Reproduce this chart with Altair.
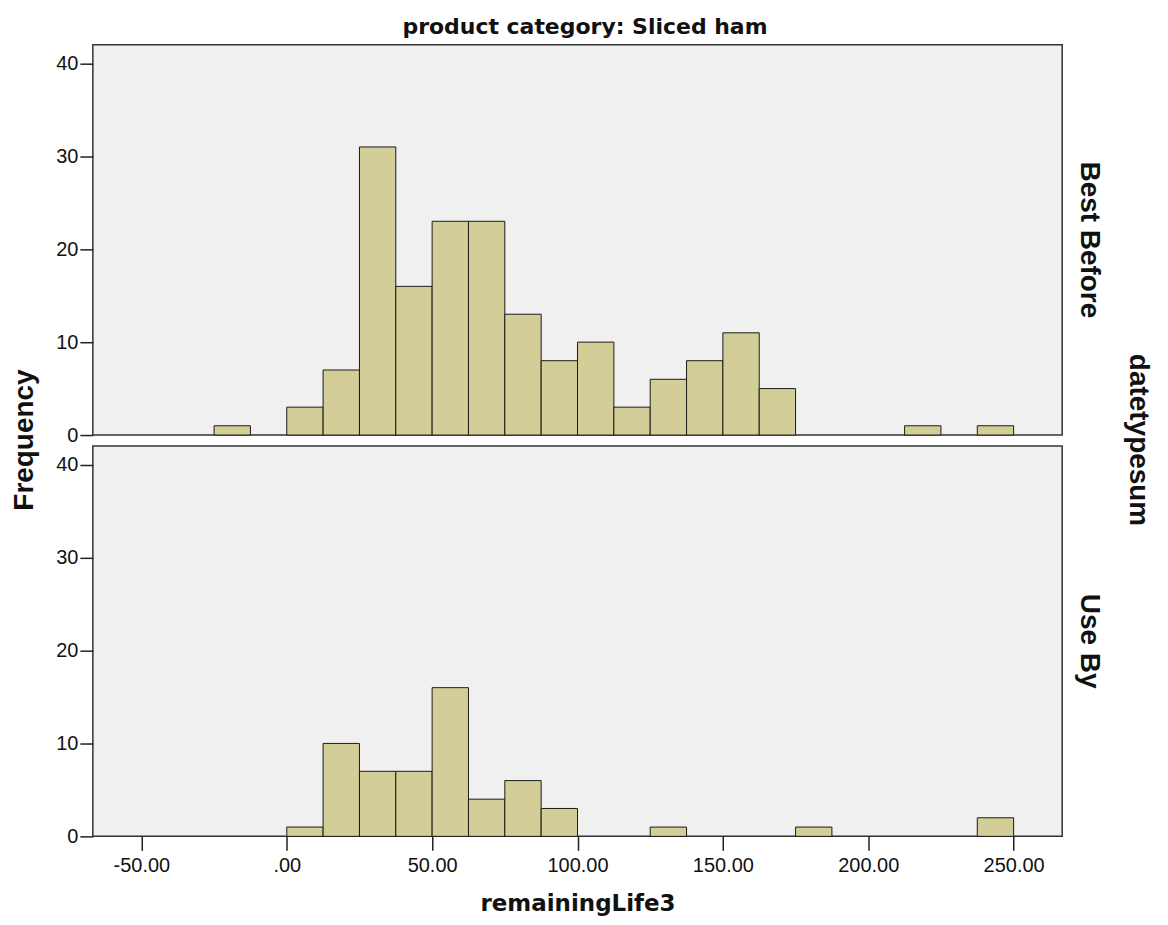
import altair as alt
import pandas as pd

# ---- data (histogram bins of width 12.5) ----
bin_starts = [-25, -12.5, 0, 12.5, 25, 37.5, 50, 62.5, 75, 87.5, 100, 112.5,
              125, 137.5, 150, 162.5, 175, 187.5, 200, 212.5, 225, 237.5]
best_before_counts = [1, 0, 3, 7, 31, 16, 23, 23, 13, 8, 10, 3,
                      6, 8, 11, 5, 0, 0, 0, 1, 0, 1]
use_by_counts = [0, 0, 1, 10, 7, 7, 16, 4, 6, 3, 0, 0,
                 1, 0, 0, 0, 1, 0, 0, 0, 0, 2]
panel_names = ["Best Before", "Use By"]
x_ticks = [-50, 0, 50, 100, 150, 200, 250]
y_ticks = [0, 10, 20, 30, 40]
BIN_WIDTH = 12.5

rows = []
for name, counts in zip(panel_names, [best_before_counts, use_by_counts]):
    for s, c in zip(bin_starts, counts):
        rows.append({"type": name, "start": s, "end": s + BIN_WIDTH, "count": c})
df = pd.DataFrame(rows)

W, H = 971, 391
XDOM = [-66.7, 266.7]
YDOM = [0, 42]
FILL = "#D3CE97"
INK = "#111111"
SANS = "Liberation Sans"
WIDE = "DejaVu Sans"

one = alt.Data(values=[{}])


def label(text, x, y, angle=0, size=28, font=SANS, baseline="middle"):
    return alt.Chart(one).mark_text(
        text=text, angle=angle, font=font, fontSize=size, fontWeight="bold",
        color=INK, align="center", baseline=baseline
    ).encode(x=alt.value(x), y=alt.value(y))


def bars(name, show_x):
    if show_x:
        x_axis = alt.Axis(
            values=x_ticks,
            labelExpr="datum.value == 0 ? '.00' : replace(format(datum.value, '.2f'), '\u2212', '-')",
            title="remainingLife3", titleFont=WIDE, titleFontSize=23,
            titleFontWeight="bold", titleColor=INK, titlePadding=17,
            labelFont=SANS, labelFontSize=20, labelColor=INK, labelPadding=5,
            tickSize=14, tickWidth=1.5, tickColor="#222222",
            domain=False, grid=False,
        )
    else:
        x_axis = None
    y_axis = alt.Axis(
        values=y_ticks, title=None, labelFont=SANS, labelFontSize=20,
        labelColor=INK, labelPadding=2, tickSize=13, tickWidth=1.5,
        tickColor="#222222", domain=False, grid=False,
    )
    return alt.Chart(df).transform_filter(
        (alt.datum.type == name) & (alt.datum.count > 0)
    ).mark_bar(fill=FILL, stroke="#1a1a1a", strokeWidth=1).encode(
        x=alt.X("start:Q", scale=alt.Scale(domain=XDOM, nice=False, zero=False), axis=x_axis),
        x2="end:Q",
        y=alt.Y("count:Q", scale=alt.Scale(domain=YDOM, nice=False), axis=y_axis),
        y2=alt.datum(0),
    )


frame = alt.Chart(one).mark_rect(opacity=0).encode(
    x=alt.value(-92), x2=alt.value(1168 - 92),
    y=alt.value(-43), y2=alt.value(925 - 43),
)

top = alt.layer(
    frame,
    bars("Best Before", False),
    label("Best Before", W + 27, H / 2, angle=90),
    label("datetypesum", 1047, 396, angle=90),
    label("Frequency", -68, 396, angle=270),
    label("product category: Sliced ham", 493, -11, size=22, font=WIDE, baseline="alphabetic"),
).properties(width=W, height=H)

bottom = alt.layer(
    bars("Use By", True),
    label("Use By", W + 27, H / 2, angle=90),
).properties(width=W, height=H)

chart = alt.vconcat(top, bottom, spacing=11, bounds="flush").properties(
    padding=0, background="white"
).configure_view(fill="#F0F0F0", stroke="#333333", strokeWidth=1.5)

chart.save("out.html", embed_options={"renderer": "svg", "actions": False})
